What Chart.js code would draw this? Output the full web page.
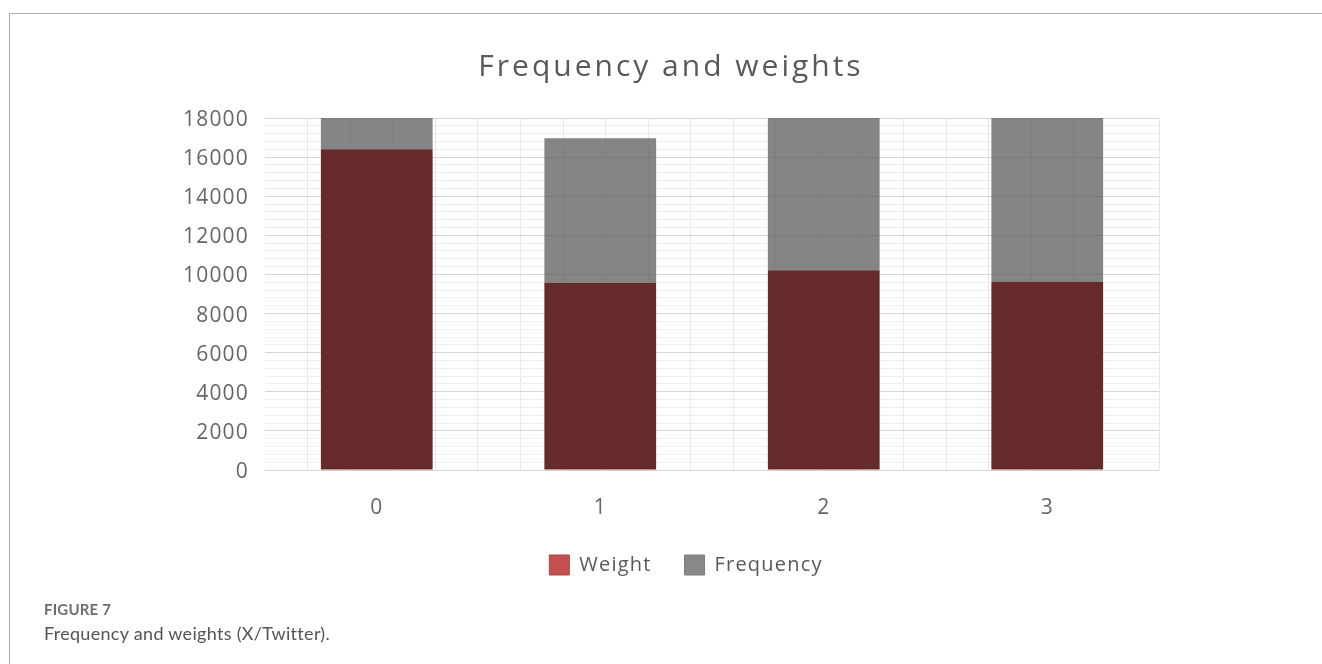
<!DOCTYPE html>
<html>
<head>
<meta charset="utf-8">
<script src="https://cdn.jsdelivr.net/npm/chart.js@4"></script>
<style>
  html, body { margin: 0; padding: 0; background: #fff; }
  body { width: 1322px; height: 664px; position: relative; overflow: hidden; }
  #frame { position: absolute; left: 9px; top: 13px; width: 1330px; height: 700px;
           border-top: 1px solid #adadad; border-left: 1px solid #adadad; box-sizing: border-box; }
  #chart { position: absolute; left: 0; top: 0; }
  .cap { position: absolute; left: 44px; font-family: Lato, "Open Sans", sans-serif; z-index: 2; }
  #figno { top: 600px; font-size: 15px; font-weight: 700; color: #6e6e6e; letter-spacing: 0.2px; }
  #figtxt { top: 622px; font-size: 18px; color: #545454; letter-spacing: 0.3px; }
</style>
</head>
<body>
<div id="frame"></div>
<canvas id="chart" width="1322" height="610"></canvas>
<div class="cap" id="figno">FIGURE 7</div>
<div class="cap" id="figtxt">Frequency and weights (X/Twitter).</div>
<script>
// Categories and stacked series
const categories = ['0', '1', '2', '3'];
const weightValues = [16400, 9570, 10220, 9620];
const frequencyValues = [7600, 7400, 8300, 8900];

// Value axis range and grid steps
const yMax = 18000;
const yMajorStep = 2000;
const yMinorStep = 400;
const xSubdivisions = 5;

const weightBar = '#662a2a';
const weightKey = '#c34f4f';
const frequencyBar = 'rgba(92, 92, 92, 0.75)';
const textGrey = '#666666';

// Shift a layout box sideways and give its text its own tracking
function nudge(box, dx, track) {
  if (!box || box._nudged) return;
  const orig = box.draw.bind(box);
  box.draw = function () {
    const ctx = this.ctx;
    ctx.save();
    ctx.letterSpacing = track;
    ctx.translate(dx, 0);
    orig();
    ctx.restore();
  };
  box._nudged = true;
}

// Slightly tracked-out text, the title more so than the rest
const spacing = {
  id: 'spacing',
  beforeUpdate(chart) { chart.ctx.letterSpacing = '1.2px'; },
  beforeLayout(chart) { chart.ctx.letterSpacing = '1.2px'; },
  beforeDraw(chart) {
    chart.ctx.letterSpacing = '1.2px';
    nudge(chart.titleBlock, 9, '3px');
    nudge(chart.legend, 24, '1.2px');
  }
};

new Chart(document.getElementById('chart'), {
  type: 'bar',
  data: {
    labels: categories,
    datasets: [
      { label: 'Weight', data: weightValues, backgroundColor: weightBar,
        barPercentage: 0.5, categoryPercentage: 1 },
      { label: 'Frequency', data: frequencyValues, backgroundColor: frequencyBar,
        barPercentage: 0.5, categoryPercentage: 1 }
    ]
  },
  options: {
    responsive: false,
    animation: false,
    layout: { padding: { left: 165, right: 163, top: 0, bottom: 25 } },
    plugins: {
      tooltip: { enabled: false },
      title: {
        display: true,
        text: 'Frequency and weights',
        color: '#595959',
        font: { family: '"Open Sans", sans-serif', size: 30, weight: 'normal' },
        padding: { top: 49, bottom: 33 }
      },
      legend: {
        position: 'bottom',
        labels: {
          color: '#595959',
          font: { family: '"Open Sans", sans-serif', size: 20 },
          boxWidth: 20,
          boxHeight: 20,
          padding: 33,
          generateLabels(chart) {
            const keys = [weightKey, '#888888'];
            return chart.data.datasets.map((ds, i) => ({
              text: ds.label,
              fillStyle: keys[i],
              strokeStyle: i === 0 ? '#b04444' : '#7c7c7c',
              lineWidth: 1,
              fontColor: '#595959',
              datasetIndex: i,
              hidden: false
            }));
          }
        }
      }
    },
    scales: {
      x: {
        stacked: true,
        grid: { display: false },
        border: { display: false },
        ticks: {
          color: textGrey,
          font: { family: '"Open Sans", sans-serif', size: 21 },
          padding: 17
        },
        afterFit(scale) { scale.height = 52; }
      },
      // unlabeled axis that only supplies the fine vertical grid
      xg: {
        type: 'linear',
        position: 'bottom',
        min: 0,
        max: categories.length,
        ticks: { display: false, count: categories.length * xSubdivisions + 1 },
        grid: {
          drawTicks: false,
          color(ctx) {
            if (!ctx.tick) return '#e6e6e6';
            const v = ctx.tick.value;
            return (Math.abs(v) < 1e-6 || Math.abs(v - categories.length) < 1e-6) ? 'rgba(0,0,0,0)' : '#e6e6e6';
          }
        },
        border: { display: false },
        afterFit(scale) { scale.height = 0; }
      },
      y: {
        stacked: true,
        min: 0,
        max: yMax,
        border: { display: false },
        grid: {
          drawTicks: false,
          color(ctx) {
            if (!ctx.tick) return '#d6d6d6';
            return ctx.tick.value % yMajorStep === 0 ? '#d6d6d6' : '#eeeeee';
          }
        },
        ticks: {
          stepSize: yMinorStep,
          autoSkip: false,
          color: textGrey,
          font: { family: '"Open Sans", sans-serif', size: 21 },
          padding: 16,
          labelOffset: 2,
          callback(value) { return value % yMajorStep === 0 ? String(value) : ''; }
        },
        afterFit(scale) { scale.width = 100; }
      }
    }
  },
  plugins: [spacing]
});
</script>
</body>
</html>
